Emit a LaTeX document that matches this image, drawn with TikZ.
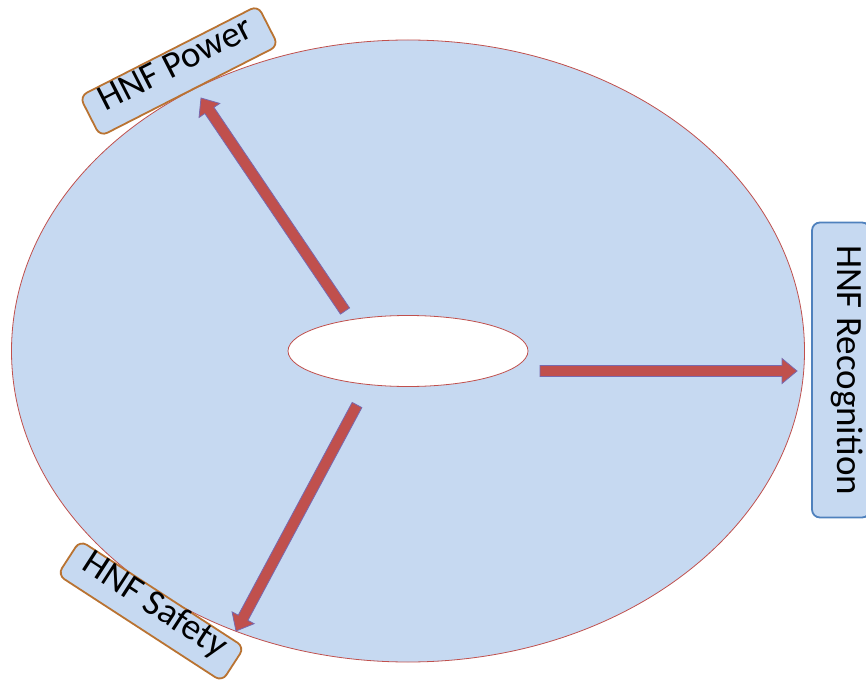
\documentclass[tikz,border=0pt]{standalone}
\usepackage{fontspec}
\setmainfont{Carlito}
\usetikzlibrary{calc,shapes.geometric}
\definecolor{fillblue}{RGB}{198,217,241}
\definecolor{ellred}{RGB}{192,80,77}
\definecolor{arrpurple}{RGB}{120,105,175}
\definecolor{boxorange}{RGB}{185,115,50}
\definecolor{boxblue}{RGB}{79,129,189}
\tikzset{
  arrowbody/.style={fill=ellred, draw=arrpurple, line width=0.8pt, line join=miter},
  labelbox/.style={fill=fillblue, line width=1.8pt, rounded corners=8pt, inner sep=0pt,
    font=\fontsize{37}{44}\selectfont, text height=0.66em, text depth=0.02em, align=center},
}
\newcommand\fatarrow[2]{%
  \coordinate (#1#2h) at ($(#2)!15pt!(#1)$);
  \filldraw[arrowbody] ($(#1)!5.5pt!90:(#2)$) -- ($(#1#2h)!5.5pt!90:(#2)$)
    -- ($(#1#2h)!12.5pt!90:(#2)$) -- (#2) -- ($(#1#2h)!12.5pt!-90:(#2)$)
    -- ($(#1#2h)!5.5pt!-90:(#2)$) -- ($(#1)!5.5pt!-90:(#2)$) -- cycle;
}
\begin{document}
\begin{tikzpicture}[x=1pt,y=-1pt]
\useasboundingbox (0,0) rectangle (866,684);
\node (outer) [ellipse, draw=ellred, fill=fillblue, line width=0.8pt, inner sep=0pt,
  minimum width=793pt, minimum height=622pt] at (408,351) {};
\node (inner) [ellipse, draw=ellred, fill=white, line width=0.8pt, inner sep=0pt,
  minimum width=240pt, minimum height=71pt] at (408,351) {};
\node (power) [labelbox, draw=boxorange, minimum width=200pt, minimum height=45pt, rotate=27]
  at (179,71) {HNF Power};
\node (safety) [labelbox, draw=boxorange, minimum width=196pt, minimum height=41pt, rotate=-33]
  at (151,611) {HNF Safety};
\node (recog) [labelbox, draw=boxblue, minimum width=295pt, minimum height=58pt, rotate=-90]
  at (841,370) {HNF Recognition};
\coordinate (pt) at (345,311);
\coordinate (ph) at (201,98);
\coordinate (st) at (357,405);
\coordinate (sh) at (236,631);
\coordinate (rt) at (540,371);
\coordinate (rh) at (797,371);
\fatarrow{pt}{ph}
\fatarrow{st}{sh}
\fatarrow{rt}{rh}
\end{tikzpicture}
\end{document}
